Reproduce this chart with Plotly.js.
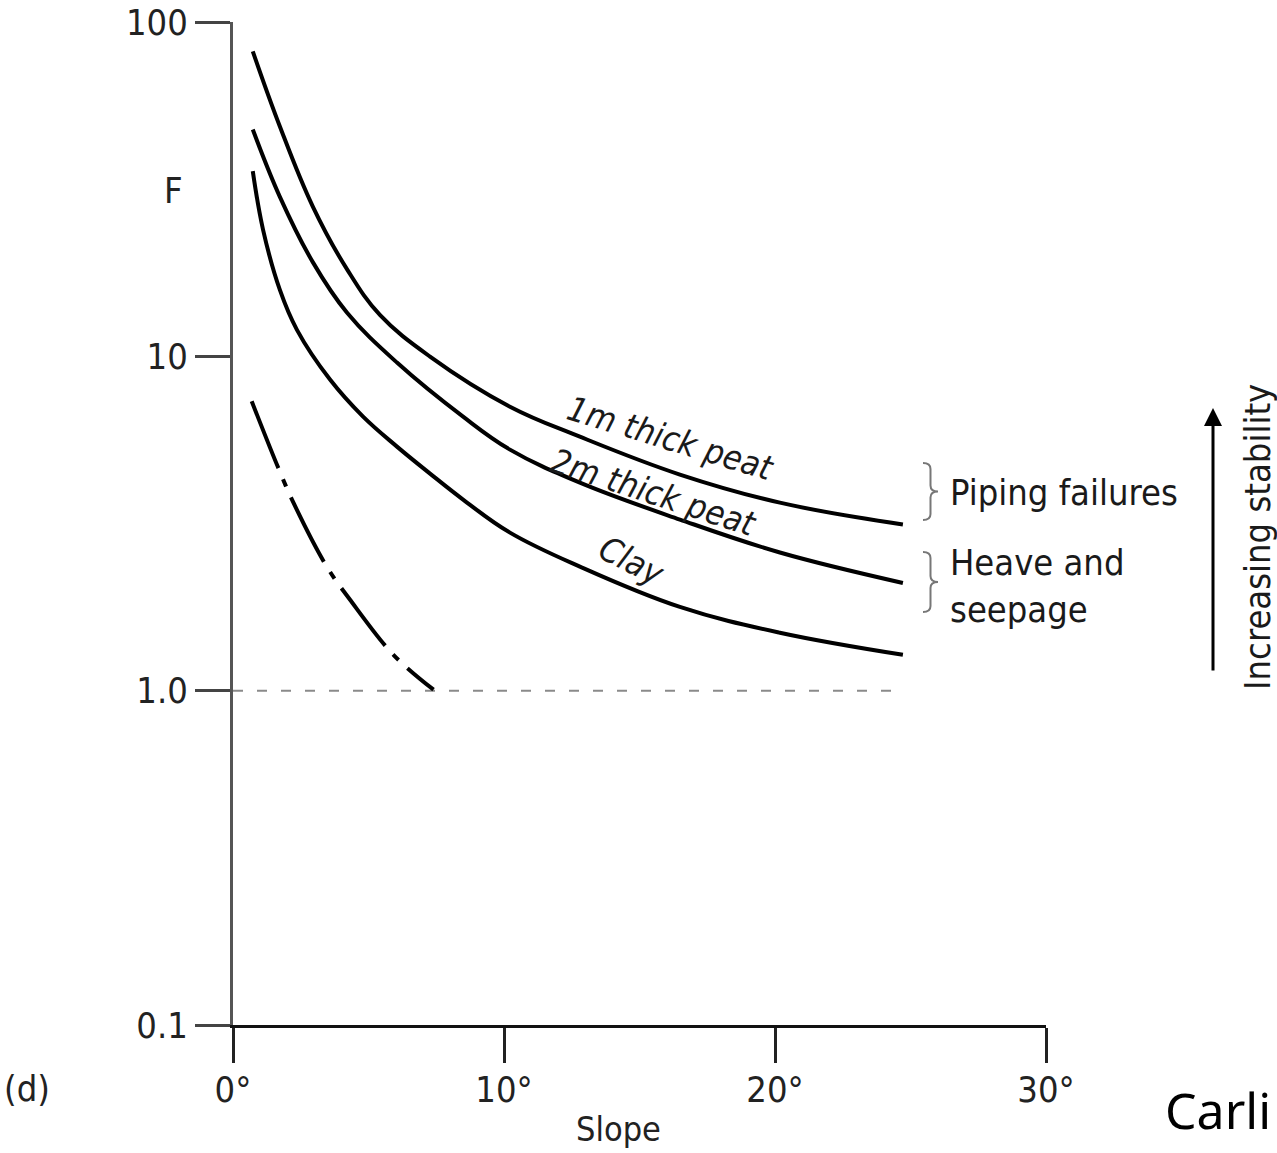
<!DOCTYPE html>
<html>
<head>
<meta charset="utf-8">
<script src="https://cdn.plot.ly/plotly-3.0.1.min.js"></script>
<style>html,body{margin:0;padding:0;background:#fff;}#chart{width:1277px;height:1153px;}</style>
</head>
<body>
<div id="chart"></div>
<script>
// ---- Data (slope in degrees, factor of safety F) ----
const peat1mSlope = [0.73, 1.73, 2.95, 4.21, 5.42, 7.27, 10.22, 12.80, 16.49, 20.18, 24.72];
const peat1mF     = [81.7, 48.7, 28.0, 18.2, 13.3, 9.98, 7.07, 5.75, 4.43, 3.65, 3.14];

const peat2mSlope = [0.73, 1.73, 2.95, 4.21, 6.05, 8.49, 10.22, 12.80, 16.49, 20.18, 24.72];
const peat2mF     = [47.7, 30.0, 19.1, 13.5, 9.58, 6.60, 5.26, 4.19, 3.25, 2.59, 2.10];

const claySlope = [0.73, 1.11, 1.73, 2.36, 3.58, 4.80, 6.05, 7.27, 8.49, 10.22, 12.80, 16.49, 20.18, 24.72];
const clayF     = [35.8, 23.9, 15.8, 12.0, 8.52, 6.60, 5.37, 4.46, 3.73, 2.97, 2.35, 1.78, 1.49, 1.28];

const dashSlope = [0.69, 1.67, 2.23, 3.46, 4.32, 5.92, 7.40];
const dashF     = [7.34, 4.64, 3.65, 2.35, 1.87, 1.28, 1.007];

const refSlope = [0, 24.72];
const refF     = [1, 1];

const xTickVals = [0, 10, 20, 30];
const xTickText = ['0°', '10°', '20°', '30°'];
const yTickVals = [0.1, 1, 10, 100];
const yTickText = ['0.1', '1.0', '10', '100'];

// ---- Layout helpers ----
const W = 1277, H = 1153;
const PL = 233, PR = 1046, PT = 22, PB = 1025;
const px = v => (v - PL) / (PR - PL);
const py = v => (PB - v) / (PB - PT);

const tickFont = 'Liberation Sans Narrow, Arial Narrow, DejaVu Sans Condensed, sans-serif';
const labFont = 'DejaVu Sans Condensed, Liberation Sans Narrow, sans-serif';

function brace(x0, x1, yt, yb) {
  const xm = (x0 + x1) / 2, ym = (yt + yb) / 2, r = 6;
  const P = (x, y) => px(x).toFixed(5) + ',' + py(y).toFixed(5);
  return 'M' + P(x0, yt) + ' Q' + P(xm, yt) + ' ' + P(xm, yt + r) +
         ' L' + P(xm, ym - r) + ' Q' + P(xm, ym) + ' ' + P(x1, ym) +
         ' Q' + P(xm, ym) + ' ' + P(xm, ym + r) +
         ' L' + P(xm, yb - r) + ' Q' + P(xm, yb) + ' ' + P(x0, yb);
}

const solid = {color: '#000', width: 4, shape: 'spline', smoothing: 1.1};
const traces = [
  {x: refSlope, y: refF, mode: 'lines', line: {color: '#8a8a8a', width: 2, dash: '10px,14px'}, hoverinfo: 'skip'},
  {x: peat1mSlope, y: peat1mF, mode: 'lines', line: solid, name: '1m thick peat'},
  {x: peat2mSlope, y: peat2mF, mode: 'lines', line: solid, name: '2m thick peat'},
  {x: claySlope, y: clayF, mode: 'lines', line: solid, name: 'Clay'},
  {x: dashSlope, y: dashF, mode: 'lines', line: {color: '#000', width: 4, shape: 'spline', smoothing: 1, dash: '72px,12px,8px,12px'}, name: 'limit'}
];
traces.forEach(t => t.cliponaxis = false);

const ann = (text, x, y, opts) => Object.assign({
  text: text, x: px(x), y: py(y), xref: 'paper', yref: 'paper', showarrow: false,
  xanchor: 'center', yanchor: 'middle', font: {family: labFont, size: 36, color: '#1a1a1a'}
}, opts || {});

const annotations = [
  ann('F', 173, 190, {font: {family: tickFont, size: 36, color: '#222'}}),
  ann('Slope', 618, 1129, {font: {family: tickFont, size: 34, color: '#222'}}),
  ann('(d)', 27, 1088, {font: {family: tickFont, size: 36, color: '#222'}}),
  ann('Carli', 1163, 1110, {xanchor: 'left', font: {family: 'Noto Sans, Open Sans, sans-serif', size: 50, color: '#000'}}),
  ann('1m thick peat', 670, 438, {textangle: 17, font: {family: labFont, size: 34, color: '#1a1a1a', style: 'italic'}}),
  ann('2m thick peat', 653, 492, {textangle: 18, font: {family: labFont, size: 34, color: '#1a1a1a', style: 'italic'}}),
  ann('Clay', 632, 561, {textangle: 27, font: {family: labFont, size: 34, color: '#1a1a1a', style: 'italic'}}),
  ann('Piping failures', 948, 492, {xanchor: 'left'}),
  ann('Heave and<br>seepage', 948, 586, {xanchor: 'left', align: 'left'}),
  ann('Increasing stability', 1257, 537, {textangle: -90}),
  {text: '', x: px(1213), y: py(408), xref: 'paper', yref: 'paper', showarrow: true,
   ax: 0, ay: 264, arrowhead: 2, arrowsize: 1.2, arrowwidth: 3, arrowcolor: '#000', standoff: 0, startstandoff: 0}
];

const shapes = [
  {type: 'path', xref: 'paper', yref: 'paper', path: brace(923, 938, 463, 520), line: {color: '#777', width: 2}},
  {type: 'path', xref: 'paper', yref: 'paper', path: brace(923, 938, 552, 612), line: {color: '#777', width: 2}}
];

const layout = {
  width: W, height: H,
  margin: {l: PL, r: W - PR, t: PT, b: H - PB, pad: 0},
  paper_bgcolor: '#fff', plot_bgcolor: '#fff',
  showlegend: false,
  xaxis: {
    range: [0, 30], showgrid: false, zeroline: false,
    showline: true, linecolor: '#111', linewidth: 3,
    ticks: 'outside', ticklen: 35, tickwidth: 3, tickcolor: '#222',
    tickvals: xTickVals, ticktext: xTickText, ticklabelstandoff: -4,
    tickfont: {family: tickFont, size: 36, color: '#222'}
  },
  yaxis: {
    type: 'log', range: [-1, 2], showgrid: false, zeroline: false,
    showline: true, linecolor: '#555', linewidth: 3,
    ticks: 'outside', ticklen: 35, tickwidth: 3, tickcolor: '#444',
    tickvals: yTickVals, ticktext: yTickText, ticklabelstandoff: 0,
    tickfont: {family: tickFont, size: 36, color: '#222'}
  },
  annotations: annotations,
  shapes: shapes
};

Plotly.newPlot('chart', traces, layout, {staticPlot: true, displayModeBar: false});
</script>
</body>
</html>
